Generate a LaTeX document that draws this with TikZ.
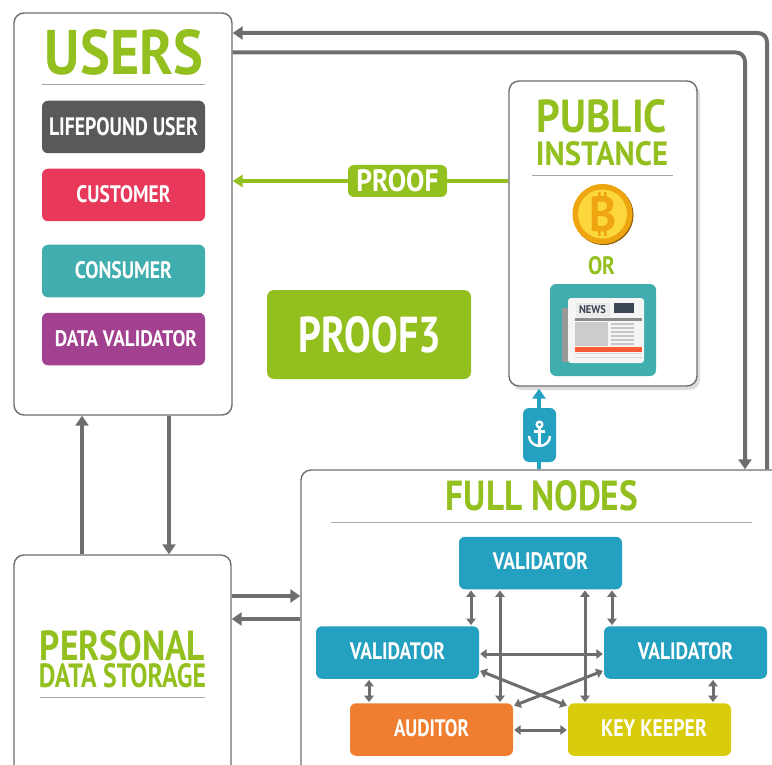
\documentclass[tikz,border=0pt]{standalone}
\usepackage{fontspec}
\usepackage{graphicx}
\setmainfont{PT Sans}
\usetikzlibrary{shadows,arrows.meta,calc}
\definecolor{lgreen}{HTML}{93C01F}
\definecolor{lineg}{HTML}{6E6E6E}
\definecolor{vblue}{HTML}{24A0C0}
\definecolor{teal2}{HTML}{40AEAE}
\definecolor{coinring}{HTML}{EFA510}
\definecolor{coinface}{HTML}{FBD73C}
\definecolor{coinedge}{HTML}{8A5A10}
\definecolor{newsdark}{HTML}{3D4654}
\newcommand{\Fit}[3]{\resizebox{#1pt}{#2pt}{\bfseries #3}}
\newcommand{\Up}[1]{\raisebox{3pt}{#1}}
\tikzset{
  x=1pt,y=-1pt,
  panel/.style={draw=lineg,line width=1.4pt,fill=white,rounded corners=10pt,inner sep=0pt},
  tile/.style={rounded corners=6pt,inner sep=0pt,text=white,minimum width=163pt,minimum height=52.5pt},
  plain/.style={inner sep=0pt,outer sep=0pt},
  title/.style={plain,text=lgreen},
  sep/.style={draw=black!35,line width=1pt},
  link/.style={draw=lineg,line width=4pt,-{Triangle[length=10pt,width=13pt]}},
  twoway/.style={draw=lineg,line width=3pt,{Triangle[length=6.5pt,width=9.5pt]}-{Triangle[length=6.5pt,width=9.5pt]},shorten <=1pt,shorten >=1pt},
}
\begin{document}
\begin{tikzpicture}
\useasboundingbox (0,0) rectangle (772,765);
\clip (0,0) rectangle (772,765);
% panels
\node[panel,minimum width=218pt,minimum height=402pt] (users) at (123,214) {};
\node[panel,minimum width=188pt,minimum height=305pt,drop shadow={shadow xshift=3pt,shadow yshift=-4pt,opacity=.28}] (public) at (603,233.5) {};
\node[panel,minimum width=520pt,minimum height=340pt] (full) at (561,640) {};
\node[panel,minimum width=217pt,minimum height=280pt] (pds) at (122.5,695) {};
% coordinates for the connectors
\coordinate (xa) at (82,0);
\coordinate (xb) at (169,0);
\coordinate (xc) at (745,0);
\coordinate (xd) at (767,0);
\coordinate (ya) at (0,33);
\coordinate (yb) at (0,52.5);
\coordinate (yc) at (0,181);
\coordinate (yd) at (0,596);
\coordinate (ye) at (0,619);
\coordinate (xf) at (539,0);
% users
\node[title] (tusers) at (124,52.5) {\Fit{158}{45}{USERS}};
\draw[sep] (42,85) -- (205,85);
\node[tile,fill=black!65] (t1) at (123.5,127) {\Fit{149}{18}{LIFEPOUND USER}};
\node[tile,fill={rgb,255:red,232;green,57;blue,90}] (t2) at (123.5,195) {\Up{\Fit{94}{17}{CUSTOMER}}};
\node[tile,fill=teal2] (t3) at (123.5,271) {\Up{\Fit{97}{17}{CONSUMER}}};
\node[tile,fill={rgb,255:red,162;green,65;blue,143}] (t4) at (123.5,339) {\hspace*{5pt}\Fit{142}{16}{DATA VALIDATOR}};
% proof3
\node[rounded corners=7pt,fill=lgreen,text=white,minimum width=204pt,minimum height=89pt,inner sep=0pt] (p3) at (369,334.5) {\hspace*{2pt}\Fit{142}{36}{PROOF3}};
% public
\node[title] (tpublic) at (602,116.5) {\Fit{130}{33}{PUBLIC}};
\node[title] (tinst) at (602,154) {\Fit{132}{24}{INSTANCE}};
\draw[sep] (532,175.5) -- (673,175.5);
\fill[coinedge] (603.5,215) circle (30);
\fill[coinring] (602.5,214) circle (30);
\fill[coinface] (602.5,214) circle (24.5);
\fill[coinring] (598,192) rectangle (600.5,199) (604,192) rectangle (606.5,199) (598,229) rectangle (600.5,236) (604,229) rectangle (606.5,236);
\node[plain,text=coinring] (coinb) at (603,214) {\Fit{27}{35}{B}};
\node[title] (tor) at (601.5,266) {\Fit{27}{18}{OR}};
\fill[teal2,rounded corners=6pt] (550,284) rectangle (656,376);
% newspaper
\fill[black!40] (562,308) rectangle (570,362);
\fill[white!96!black,rounded corners=3pt] (568,298) rectangle (644,363);
\fill[black!8] (576,303) rectangle (610,317);
\node[plain,text=newsdark] (tnews) at (592.5,310) {\Fit{27}{8}{NEWS}};
\fill[newsdark] (614,303) rectangle (634,313);
\fill[black!45] (575,318) rectangle (642,320.5);
\fill[black!20] (575,322) rectangle (608,346);
\foreach \yy in {323,327,331,335,339,343}{\fill[black!22] (611,\yy) rectangle (634,\yy+2);}
\fill[red!60!orange!80] (575,347) rectangle (642,351.5);
\foreach \yy in {353,356.5}{\fill[black!15] (575,\yy) rectangle (642,\yy+1);}
% full nodes
\node[title] (tfull) at (542,496) {\Fit{192}{30}{FULL NODES}};
\draw[sep] (331,522) -- (752,522);
\node[tile,fill=vblue] (v1) at (540.5,563) {\raisebox{4pt}{\Fit{95}{17}{VALIDATOR}}};
\node[tile,fill=vblue] (v2) at (397.5,652.5) {\Up{\Fit{95}{17}{VALIDATOR}}};
\node[tile,fill=vblue] (v3) at (685.5,652.5) {\Up{\Fit{95}{17}{VALIDATOR}}};
\node[tile,fill={rgb,255:red,240;green,126;blue,48}] (aud) at (431.5,729.5) {\Up{\Fit{75}{17}{AUDITOR}}};
\node[tile,fill={rgb,255:red,216;green,204;blue,12}] (key) at (649.5,729.5) {\hspace*{9pt}\Up{\Fit{106}{17}{KEY KEEPER}}};
% pds
\node[title] (tpers) at (122.5,645.5) {\Fit{165}{30}{PERSONAL}};
\node[title] (tdata) at (122.5,676) {\Fit{167}{24}{DATA STORAGE}};
\draw[sep] (40,697) -- (205,697);
% connectors
\draw[link] (xa |- pds.north) -- (xa |- users.south);
\draw[link] (xb |- users.south) -- (xb |- pds.north);
\draw[link] (pds.east |- yd) -- (full.west |- yd);
\draw[link] (full.west |- ye) -- (pds.east |- ye);
\draw[link,rounded corners=9pt] (xd |- full.north) -- (xd |- ya) -- (users.east |- ya);
\draw[link,rounded corners=9pt] (users.east |- yb) -- (xc |- yb) -- (xc |- full.north);
% proof
\draw[draw=lgreen,line width=3.6pt,-{Triangle[length=10pt,width=12pt]}] (public.west |- yc) -- (users.east |- yc);
\node[rounded corners=6pt,fill=lgreen,text=white,minimum width=99pt,minimum height=32pt,inner sep=0pt] (proof) at (397.5,181) {\Fit{82}{22}{PROOF}};
% anchor link
\draw[draw=vblue,line width=4pt,-{Triangle[length=10pt,width=13pt]}] (xf |- full.north) -- ($(xf |- public.south)+(0,2)$);
\node[rounded corners=6pt,fill=vblue,minimum width=33pt,minimum height=54pt,inner sep=0pt] (anc) at (539.5,435) {};
\begin{scope}[draw=white,line width=2.4pt]
\draw (539.5,424.5) circle (2.8);
\draw (539.5,427) -- (539.5,446);
\draw (534,431.5) -- (545,431.5);
\draw (529,436) arc[start angle=180,end angle=360,x radius=10.5,y radius=-10];
\end{scope}
% validators
\coordinate (x1) at (471,0);
\coordinate (x2) at (500,0);
\coordinate (x3) at (585,0);
\coordinate (x4) at (612,0);
\coordinate (x5) at (369,0);
\coordinate (x6) at (713,0);
\coordinate (y1) at (0,654);
\coordinate (y2) at (0,730);
\coordinate (y3) at (0,670.5);
\coordinate (y4) at (0,706);
\draw[twoway] (x1 |- v1.south) -- (x1 |- v2.north);
\draw[twoway] (x2 |- v1.south) -- (x2 |- aud.north);
\draw[twoway] (x3 |- v1.south) -- (x3 |- key.north);
\draw[twoway] (x4 |- v1.south) -- (x4 |- v3.north);
\draw[twoway] (x5 |- v2.south) -- (x5 |- aud.north);
\draw[twoway] (x6 |- v3.south) -- (x6 |- key.north);
\draw[twoway] (v2.east |- y1) -- (v3.west |- y1);
\draw[twoway] (aud.east |- y2) -- (key.west |- y2);
\draw[twoway] (v2.east |- y3) -- (key.west |- y4);
\draw[twoway] (v3.west |- y3) -- (aud.east |- y4);
\end{tikzpicture}
\end{document}
